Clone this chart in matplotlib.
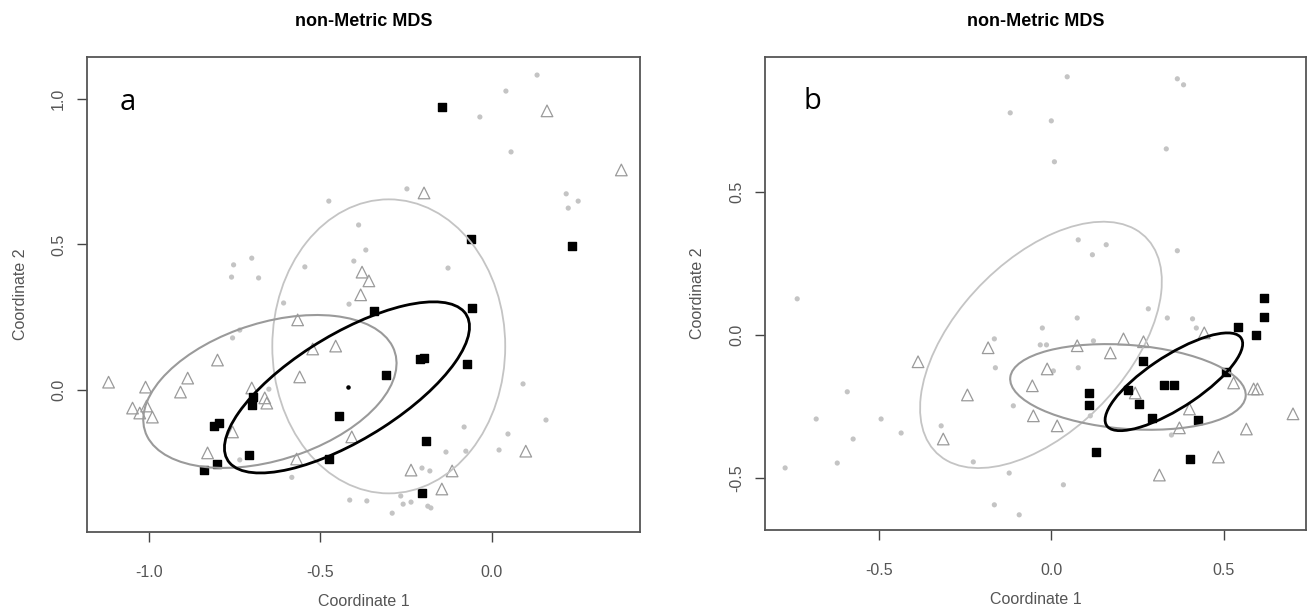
import numpy as np
import matplotlib
matplotlib.use("Agg")
import matplotlib.pyplot as plt
from matplotlib.patches import Ellipse

# ---- panel a ----
a_dot_x = [0.133, 0.042, -0.034, 0.057, -0.247, -0.475, -0.388, -0.367, -0.402, -0.545,
           -0.127, -0.753, -0.700, -0.759, -0.680, 0.218, 0.253, 0.224, -0.735, -0.756,
           -0.607, -0.650, -0.735, -0.583, -0.416, 0.092, 0.159, -0.080, 0.048, 0.022,
           -0.075, -0.133, -0.203, -0.180, -0.414, -0.364, -0.265, -0.258, -0.235, -0.186,
           -0.177, -0.290]
a_dot_y = [1.082, 1.027, 0.938, 0.818, 0.691, 0.649, 0.567, 0.481, 0.443, 0.423,
           0.419, 0.430, 0.453, 0.388, 0.385, 0.674, 0.649, 0.625, 0.206, 0.179,
           0.299, 0.003, -0.240, -0.300, 0.295, 0.021, -0.103, -0.127, -0.151, -0.206,
           -0.210, -0.213, -0.268, -0.278, -0.378, -0.381, -0.364, -0.392, -0.385, -0.399,
           -0.405, -0.423]

a_tri_x = [0.162, -0.197, -0.378, -0.358, 0.379, -1.118, -1.010, -0.887, -0.800, -0.908,
           -1.048, -1.027, -1.007, -0.990, -0.566, -0.560, -0.700, -0.662, -0.656, -0.756,
           -0.829, -0.569, -0.382, -0.455, -0.522, -0.408, -0.235, -0.115, -0.145, 0.100]
a_tri_y = [0.959, 0.677, 0.405, 0.375, 0.756, 0.027, 0.010, 0.041, 0.103, -0.007,
           -0.062, -0.079, -0.055, -0.093, 0.241, 0.045, 0.007, -0.027, -0.045, -0.144,
           -0.216, -0.237, 0.327, 0.151, 0.141, -0.161, -0.275, -0.278, -0.340, -0.210]

a_sq_x = [-0.145, -0.060, 0.235, -0.697, -0.700, -0.811, -0.797, -0.709, -0.800, -0.838,
          -0.344, -0.057, -0.209, -0.197, -0.072, -0.308, -0.446, -0.192, -0.203, -0.475]
a_sq_y = [0.973, 0.519, 0.495, -0.024, -0.052, -0.124, -0.113, -0.223, -0.254, -0.275,
          0.271, 0.282, 0.107, 0.110, 0.089, 0.052, -0.089, -0.175, -0.354, -0.237]

a_centroid = (-0.42, 0.01)

# ellipses: centre x, centre y, width, height, angle
a_ell_light = (-0.300, 0.150, 0.680, 1.010, 0.0)
a_ell_grey = (-0.647, -0.005, 0.780, 0.463, 23.3)
a_ell_black = (-0.422, 0.009, 0.859, 0.346, 37.2)

# ---- panel b ----
b_dot_x = [-0.119, 0.046, 0.365, 0.383, 0.000, 0.333, 0.009, 0.078, 0.159, 0.119,
           0.365, -0.736, -0.591, -0.681, -0.493, -0.435, -0.574, -0.620, -0.771, -0.319,
           -0.226, -0.122, -0.165, -0.093, -0.165, -0.162, -0.110, 0.281, 0.075, -0.026,
           0.336, 0.409, 0.420, 0.122, -0.014, -0.032, 0.006, 0.078, 0.113, 0.348,
           0.035]
b_dot_y = [0.776, 0.902, 0.895, 0.874, 0.748, 0.650, 0.605, 0.332, 0.315, 0.280,
           0.294, 0.126, -0.199, -0.294, -0.294, -0.343, -0.364, -0.448, -0.465, -0.318,
           -0.444, -0.483, -0.594, -0.629, -0.014, -0.115, -0.248, 0.091, 0.059, 0.024,
           0.059, 0.056, 0.024, -0.021, -0.035, -0.035, -0.126, -0.115, -0.283, -0.350,
           -0.524]

b_tri_x = [-0.386, -0.183, -0.243, -0.313, 0.075, 0.209, 0.267, 0.171, -0.012, -0.055,
           -0.052, 0.017, 0.243, 0.400, 0.371, 0.528, 0.586, 0.597, 0.700, 0.565,
           0.484, 0.313, 0.443]
b_tri_y = [-0.094, -0.045, -0.210, -0.364, -0.038, -0.014, -0.024, -0.063, -0.119, -0.178,
           -0.283, -0.318, -0.203, -0.259, -0.325, -0.168, -0.189, -0.189, -0.276, -0.329,
           -0.427, -0.490, 0.007]

b_sq_x = [0.615, 0.617, 0.542, 0.594, 0.267, 0.325, 0.354, 0.110, 0.110, 0.223,
          0.255, 0.293, 0.426, 0.130, 0.403, 0.507]
b_sq_y = [0.129, 0.063, 0.028, 0.000, -0.091, -0.175, -0.175, -0.203, -0.245, -0.192,
          -0.241, -0.290, -0.297, -0.409, -0.434, -0.129]

b_ell_light = (-0.030, -0.035, 0.975, 0.530, 56.0)
b_ell_grey = (0.222, -0.182, 0.685, 0.293, -5.7)
b_ell_black = (0.355, -0.164, 0.496, 0.172, 39.4)

xticks_a = [-1.0, -0.5, 0.0]
yticks_a = [0.0, 0.5, 1.0]
xticks_b = [-0.5, 0.0, 0.5]
yticks_b = [-0.5, 0.0, 0.5]

plt.rcParams['font.family'] = ['Liberation Sans', 'DejaVu Sans']

LIGHT = '#c4c4c4'
GREY = '#9a9a9a'
TXT = '#555555'


def draw_panel(ax, dots, tris, sqs, ells, letter, letter_pos):
    ax.scatter(dots[0], dots[1], s=14, color=LIGHT, edgecolors='none', zorder=2)
    ax.scatter(tris[0], tris[1], s=70, marker='^', facecolors='none',
               edgecolors=GREY, linewidths=0.9, zorder=3)
    ax.scatter(sqs[0], sqs[1], s=34, marker='s', color='black', zorder=4)
    styles = [(LIGHT, 1.3), (GREY, 1.5), ('black', 2.0)]
    for (cx, cy, w, h, ang), (col, lw) in zip(ells, styles):
        ax.add_patch(Ellipse((cx, cy), w, h, angle=ang, fill=False,
                             edgecolor=col, linewidth=lw, zorder=5))
    ax.set_title('non-Metric MDS', fontsize=13, fontweight='bold', pad=22)
    ax.set_xlabel('Coordinate 1', fontsize=11.5, color=TXT, labelpad=10)
    ax.set_ylabel('Coordinate 2', fontsize=11.5, color=TXT, labelpad=17)
    ax.tick_params(axis='both', length=7, width=1, color='#444444',
                   labelsize=11.5, labelcolor=TXT)
    ax.tick_params(axis='x', pad=17)
    ax.tick_params(axis='y', labelrotation=90, pad=8)
    for lab in ax.get_yticklabels():
        lab.set_va('center')
    for sp in ax.spines.values():
        sp.set_color('#555555')
        sp.set_linewidth(1.3)
    ax.text(letter_pos[0], letter_pos[1], letter, transform=ax.transAxes,
            fontsize=21, family=['Open Sans', 'DejaVu Sans'],
            ha='center', va='center', color='black')


fig = plt.figure(figsize=(13.14, 6.13), dpi=100)
ax1 = fig.add_axes([0.0662, 0.132, 0.421, 0.775])
ax2 = fig.add_axes([0.582, 0.1354, 0.412, 0.772])

ax1.set_xlim(-1.181, 0.434)
ax1.set_ylim(-0.488, 1.144)
ax1.set_xticks(xticks_a)
ax1.set_yticks(yticks_a)
ax1.set_xticklabels(['%.1f' % v for v in xticks_a])
ax1.set_yticklabels(['%.1f' % v for v in yticks_a])
draw_panel(ax1, (a_dot_x, a_dot_y), (a_tri_x, a_tri_y), (a_sq_x, a_sq_y),
           [a_ell_light, a_ell_grey, a_ell_black], 'a', (0.074, 0.905))
ax1.scatter([a_centroid[0]], [a_centroid[1]], s=5, color='black', zorder=6)

ax2.set_xlim(-0.830, 0.738)
ax2.set_ylim(-0.682, 0.972)
ax2.set_xticks(xticks_b)
ax2.set_yticks(yticks_b)
ax2.set_xticklabels(['%.1f' % v for v in xticks_b])
ax2.set_yticklabels(['%.1f' % v for v in yticks_b])
draw_panel(ax2, (b_dot_x, b_dot_y), (b_tri_x, b_tri_y), (b_sq_x, b_sq_y),
           [b_ell_light, b_ell_grey, b_ell_black], 'b', (0.089, 0.905))

fig.savefig('out.png', dpi=100)
